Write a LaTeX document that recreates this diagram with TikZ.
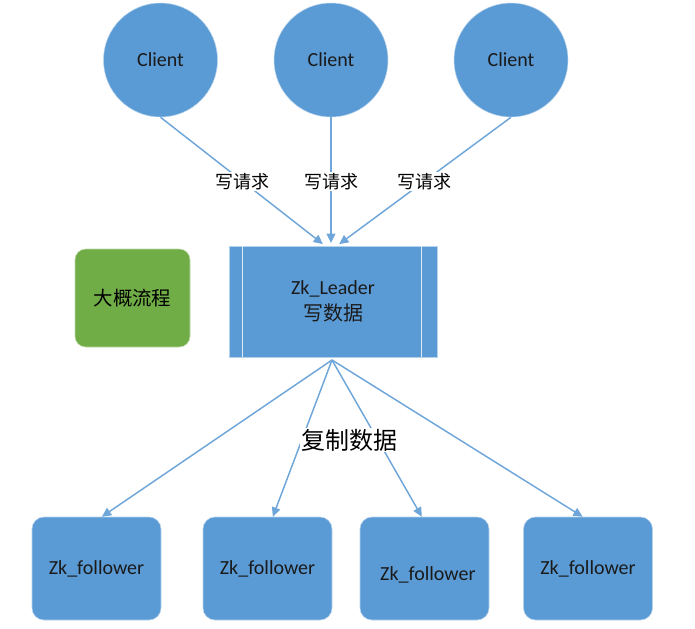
\documentclass[tikz,border=0pt]{standalone}
\usepackage{fontspec}
\setmainfont{Carlito}
\newfontfamily\cjk{Noto Sans CJK SC}
\usetikzlibrary{arrows.meta}
\definecolor{zkblue}{HTML}{5B9BD5}
\definecolor{zkgreen}{HTML}{70AD47}
\definecolor{zkline}{HTML}{6FA6DA}
\definecolor{zktext}{HTML}{1A1A1A}
\tikzset{
  zk client/.style={circle,fill=zkblue,draw=white!55!zkblue,thin,minimum size=85.5pt,inner sep=0pt,text=zktext,font=\fontsize{15}{18}\selectfont},
  zk leader/.style={rectangle,fill=zkblue,draw=white!55!zkblue,thin,minimum width=156pt,minimum height=83.25pt,align=center,text=zktext,font=\fontsize{15}{19.5}\selectfont},
  zk follower/.style={rectangle,rounded corners=9pt,fill=zkblue,draw=white!55!zkblue,thin,minimum width=96.75pt,minimum height=77.25pt,text=zktext,font=\fontsize{15}{18}\selectfont},
  zk note/.style={rectangle,rounded corners=8pt,fill=zkgreen,draw=white!55!zkgreen,thin,minimum width=86.25pt,minimum height=73.5pt,text=black,font=\cjk\fontsize{14.6}{18}\selectfont},
  zk bar/.style={draw=white!80!zkblue,line width=.8pt},
  zk arrow/.style={zkline,line width=1.1pt,-{Triangle[length=7pt,width=6.5pt]}},
  zk label/.style={fill=white,inner sep=1pt,text=black,font=\cjk\fontsize{13.5}{16}\selectfont}
}
\begin{document}
\begin{tikzpicture}[x=0.75pt,y=-0.75pt]
  \useasboundingbox (0,0) rectangle (695,628);
  % clients
  \node[zk client] (c1) at (160.5,60) {Client};
  \node[zk client] (c2) at (331,60) {Client};
  \node[zk client] (c3) at (511,60) {Client};
  % leader and the overview note
  \node[zk leader] (leader) at (333,301.5) {Zk\_Leader\\{\cjk 写数据}};
  \draw[zk bar] ([xshift=10.5pt]leader.north west) -- ([xshift=10.5pt]leader.south west);
  \draw[zk bar] ([xshift=-12pt]leader.north east) -- ([xshift=-12pt]leader.south east);
  \node[zk note] (note) at (132.5,298) {大概流程};
  % followers
  \node[zk follower] (f1) at (96.5,568.5) {Zk\_follower};
  \node[zk follower] (f2) at (267.5,568.5) {Zk\_follower};
  \node[zk follower] (f3) at (424.5,568.5) {\hspace{5pt}\raisebox{-9pt}[0pt][0pt]{Zk\_follower}};
  \node[zk follower] (f4) at (588,568.5) {Zk\_follower};
  % write requests
  \draw[zk arrow,shorten >=2pt] (c1.south) -- node[zk label,pos=.5] (w1) {写请求} ([xshift=-6pt]leader.north);
  \draw[zk arrow,shorten >=2pt] (c2.south) -- node[zk label,pos=.5] (w2) {写请求} (c2.south |- leader.north);
  \draw[zk arrow,shorten >=2pt] (c3.south) -- node[zk label,pos=.5] (w3) {写请求} ([xshift=3pt]leader.north);
  % replication
  \coordinate (fan) at (332,360);
  \draw[zk arrow] (fan) -- ([xshift=4pt]f1.north);
  \draw[zk arrow] (fan) -- ([xshift=4pt]f2.north);
  \draw[zk arrow] (fan) -- ([xshift=-2pt]f3.north);
  \draw[zk arrow] (fan) -- ([xshift=-4pt]f4.north);
  \node[zk label,font=\cjk\fontsize{18}{20}\selectfont] (copy) at (349.5,440) {复制数据};
\end{tikzpicture}
\end{document}
